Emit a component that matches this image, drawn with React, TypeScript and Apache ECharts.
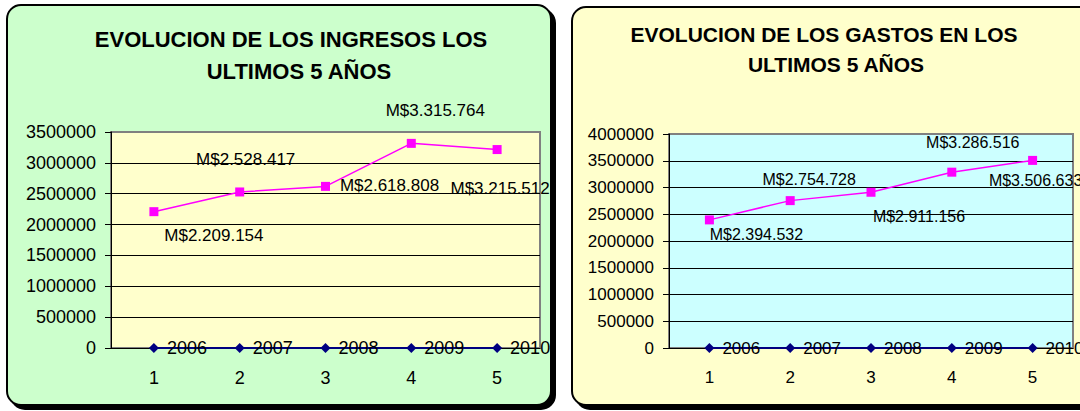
import React, { useEffect, useRef } from "react";
import * as echarts from "echarts";

// ---- data ----
const categories = ["1", "2", "3", "4", "5"];
const years = ["2006", "2007", "2008", "2009", "2010"];
const yearBase = [0, 0, 0, 0, 0];
const ingresos = [2209154, 2528417, 2618808, 3315764, 3215512];
const gastos = [2394532, 2754728, 2911156, 3286516, 3506633];
const ingresosAxisMax = 3500000;
const gastosAxisMax = 4000000;
const axisInterval = 500000;
const titleIngresos = ["EVOLUCION DE LOS INGRESOS LOS", "ULTIMOS 5 AÑOS"];
const titleGastos = ["EVOLUCION DE LOS GASTOS EN LOS", "ULTIMOS 5 AÑOS"];

// label placement (offset from marker centre), as in the Excel original
const ingresosLabelOffsets = [[60, 24], [6, -32], [64, -1], [24, -33], [3, 39]];
const gastosLabelOffsets = [[47, 15], [19, -21], [48, 24], [21, -30], [3, 20]];

const FONT = '"Liberation Sans", Arial, sans-serif';

const fmtMoney = (v: number) =>
  "M$" + String(v).replace(/\B(?=(\d{3})+(?!\d))/g, ".");

function panel(x: number, y: number, w: number, h: number, fill: string) {
  return [
    {
      type: "rect",
      z: -20,
      shape: { x: x + 4, y: y + 4, width: w, height: h, r: 14 },
      style: { fill: "#000", stroke: "#000", lineWidth: 2 },
      silent: true,
    },
    {
      type: "rect",
      z: -19,
      shape: { x, y, width: w, height: h, r: 14 },
      style: { fill, stroke: "#000", lineWidth: 2 },
      silent: true,
    },
  ];
}

function titleText(text: string, x: number, y: number, size: number) {
  return {
    type: "text",
    z: 10,
    x,
    y,
    style: {
      text,
      fill: "#000",
      font: `bold ${size}px ${FONT}`,
      align: "center",
      verticalAlign: "middle",
    },
    silent: true,
  };
}

function axesFor(idx: number, max: number, labelSize: number) {
  const xAxis = {
    type: "category",
    gridIndex: idx,
    data: categories,
    boundaryGap: true,
    axisLine: { show: true, lineStyle: { color: "#000", width: 1 } },
    axisTick: { show: false },
    axisLabel: {
      color: "#000",
      fontFamily: FONT,
      fontSize: labelSize,
      margin: 21,
    },
    splitLine: { show: false },
  };
  const yAxis = {
    type: "value",
    gridIndex: idx,
    min: 0,
    max,
    interval: axisInterval,
    axisLine: { show: true, lineStyle: { color: "#000", width: 1 } },
    axisTick: { show: true, inside: false, length: 6, lineStyle: { color: "#000" } },
    axisLabel: {
      color: "#000",
      fontFamily: FONT,
      fontSize: labelSize,
      margin: 15,
      formatter: (v: number) => String(v),
    },
    splitLine: {
      show: true,
      showMaxLine: false,
      lineStyle: { color: "#000", width: 1 },
    },
  };
  return { xAxis, yAxis };
}

function seriesFor(
  idx: number,
  values: number[],
  offsets: number[][],
  dataLabelSize: number,
  yearLabelSize: number
) {
  return [
    {
      type: "line",
      xAxisIndex: idx,
      yAxisIndex: idx,
      data: yearBase,
      symbol: "diamond",
      symbolSize: 10,
      lineStyle: { color: "#000080", width: 2 },
      itemStyle: { color: "#000080" },
      z: 3,
      label: {
        show: true,
        position: "right",
        distance: 8,
        color: "#000",
        fontFamily: FONT,
        fontSize: yearLabelSize,
        formatter: (p: any) => years[p.dataIndex],
      },
    },
    {
      type: "line",
      xAxisIndex: idx,
      yAxisIndex: idx,
      data: values.map((v, i) => ({
        value: v,
        label: { offset: offsets[i] },
      })),
      symbol: "rect",
      symbolSize: 9,
      lineStyle: { color: "#FF00FF", width: 1.5 },
      itemStyle: { color: "#FF00FF" },
      z: 4,
      label: {
        show: true,
        position: "inside",
        align: "center",
        verticalAlign: "middle",
        color: "#000",
        fontFamily: FONT,
        fontSize: dataLabelSize,
        formatter: (p: any) => fmtMoney(p.value),
      },
    },
  ];
}

export default function App() {
  const ref = useRef<HTMLDivElement>(null);

  useEffect(() => {
    if (!ref.current) return;
    const chart = echarts.init(ref.current, undefined, { renderer: "svg" });
    const left = axesFor(0, ingresosAxisMax, 18);
    const right = axesFor(1, gastosAxisMax, 17);
    chart.setOption({
      animation: false,
      backgroundColor: "#fff",
      graphic: {
        elements: [
          ...panel(7, 5, 544, 400, "#CCFFCC"),
          ...panel(572, 7, 530, 398, "#FFFFCC"),
          titleText(titleIngresos[0], 291, 39, 22),
          titleText(titleIngresos[1], 299, 71, 22),
          titleText(titleGastos[0], 824, 34, 21),
          titleText(titleGastos[1], 836, 64, 21),
        ],
      },
      grid: [
        {
          left: 111,
          top: 132,
          width: 429,
          height: 216,
          show: true,
          backgroundColor: "#FFFFCC",
          borderColor: "#808080",
          borderWidth: 2,
        },
        {
          left: 669,
          top: 134,
          width: 404,
          height: 214,
          show: true,
          backgroundColor: "#CCFFFF",
          borderColor: "#808080",
          borderWidth: 2,
        },
      ],
      xAxis: [left.xAxis, right.xAxis],
      yAxis: [left.yAxis, right.yAxis],
      series: [
        ...seriesFor(0, ingresos, ingresosLabelOffsets, 17, 18),
        ...seriesFor(1, gastos, gastosLabelOffsets, 16, 17),
      ],
    });
    return () => chart.dispose();
  }, []);

  return (
    <div
      ref={ref}
      style={{ position: "fixed", left: 0, top: 0, width: 1080, height: 411 }}
    />
  );
}
